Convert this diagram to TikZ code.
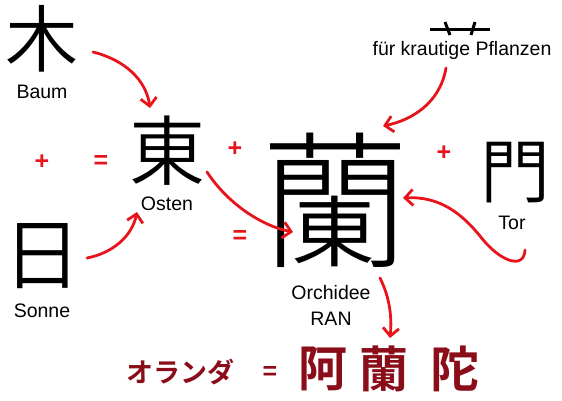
\documentclass[tikz,border=0pt]{standalone}
\usepackage{fontspec}
\setmainfont{Liberation Sans}
\IfFontExistsTF{Noto Sans CJK JP Light}{\newfontfamily\cjkthin{Noto Sans CJK JP Light}}{\newfontfamily\cjkthin{Noto Sans CJK JP}}
\IfFontExistsTF{Noto Sans CJK JP DemiLight}{\newfontfamily\cjklight{Noto Sans CJK JP DemiLight}}{\newfontfamily\cjklight{Noto Sans CJK JP}}
\IfFontExistsTF{Noto Sans CJK JP Bold}{\newfontfamily\cjkbold{Noto Sans CJK JP Bold}}{\newfontfamily\cjkbold{Noto Sans CJK JP}[FakeBold=2]}
\usetikzlibrary{arrows.meta}
\definecolor{arrowred}{HTML}{E8141B}
\definecolor{deepred}{HTML}{8B0D19}
\begin{document}
\begin{tikzpicture}[x=1pt,y=-1pt,
  kanji/.style={inner sep=0pt,font=\cjklight\fontsize{76}{76}\selectfont},
  bigkanji/.style={inner sep=0pt,font=\cjkthin\fontsize{148}{148}\selectfont},
  lbl/.style={inner sep=0pt,font=\fontsize{19.5}{21}\selectfont},
  op/.style={inner sep=0pt,text=arrowred,font=\bfseries\fontsize{25}{25}\selectfont},
  botop/.style={inner sep=0pt,text=deepred,font=\bfseries\fontsize{25}{25}\selectfont},
  botkanji/.style={inner sep=0pt,text=deepred,font=\cjkbold\fontsize{49}{49}\selectfont},
  arr/.style={draw=arrowred,line width=2.8pt,line cap=round,
    -{Straight Barb[length=8pt,width=16pt,line width=2.8pt]}},
  radical/.style={line width=3pt}]
\useasboundingbox (0,0) rectangle (562,400);
% characters
\node[kanji,font=\cjklight\fontsize{73}{73}\selectfont] (baum) at (42,39) {木};
\node[lbl] (baumt) at (42,92) {Baum};
\node[kanji] (osten) at (167,151) {東};
\node[lbl] (ostent) at (167,204) {Osten};
\node[kanji,font=\cjklight\fontsize{78}{78}\selectfont] (sonne) at (42,256) {日};
\node[lbl] (sonnet) at (42,311) {Sonne};
\node[bigkanji] (ran) at (335,200) {蘭};
\node[lbl] (orch) at (331,293) {Orchidee};
\node[lbl] (rant) at (331,319) {RAN};
\node[kanji,font=\cjklight\fontsize{70}{70}\selectfont] (tor) at (515,173) {門};
\node[lbl] (tort) at (512,223) {Tor};
\node[lbl] (kraut) at (462,50) {für krautige Pflanzen};
% grass radical
\coordinate (gl) at (430,29);
\coordinate (gr) at (490,29);
\draw[radical] (gl) -- (gr);
\coordinate (t1a) at (445,22);
\coordinate (t1b) at (450,35);
\coordinate (t2a) at (475,22);
\coordinate (t2b) at (471,35);
\draw[radical] (t1a) -- (t1b);
\draw[radical] (t2a) -- (t2b);
% operators
\node[op] (p1) at (42,162) {+};
\node[op] (e1) at (101,162) {=};
\node[op] (p2) at (235,149) {+};
\node[op] (e2) at (240,237) {=};
\node[op] (p3) at (444,153) {+};
% bottom line
\node[inner sep=0pt,text=deepred,font=\cjkbold\fontsize{27}{27}\selectfont] (oranda) at (180,372) {オランダ};
\node[botop] (e3) at (270,373) {=};
\node[botkanji] (a1) at (323,369) {阿};
\node[botkanji] (a2) at (384,369) {蘭};
\node[botkanji] (a3) at (455,369) {陀};
% arrow end points
\coordinate (s1) at (93,52);   \coordinate (d1) at (150,108);
\coordinate (s2) at (87,258);  \coordinate (d2) at (137,212);
\coordinate (s3) at (207,172); \coordinate (d3) at (293,232);
\coordinate (s4) at (446,68);  \coordinate (d4) at (383,126);
\coordinate (s5) at (525,250); \coordinate (m5) at (480,236); \coordinate (d5) at (403,198);
\coordinate (s6) at (380,278); \coordinate (d6) at (390,338);
% arrows
\draw[arr] (s1) .. controls (125,60) and (146,80) .. (d1);
\draw[arr] (s2) .. controls (113,253) and (132,236) .. (d2);
\draw[arr] (s3) .. controls (228,204) and (262,226) .. (d3);
\draw[arr] (s4) .. controls (440,103) and (412,120) .. (d4);
\draw[arr] (s5) .. controls (524,270) and (500,262) .. (m5) .. controls (462,214) and (440,196) .. (d5);
\draw[arr] (s6) .. controls (390,298) and (392,318) .. (d6);
\end{tikzpicture}
\end{document}
